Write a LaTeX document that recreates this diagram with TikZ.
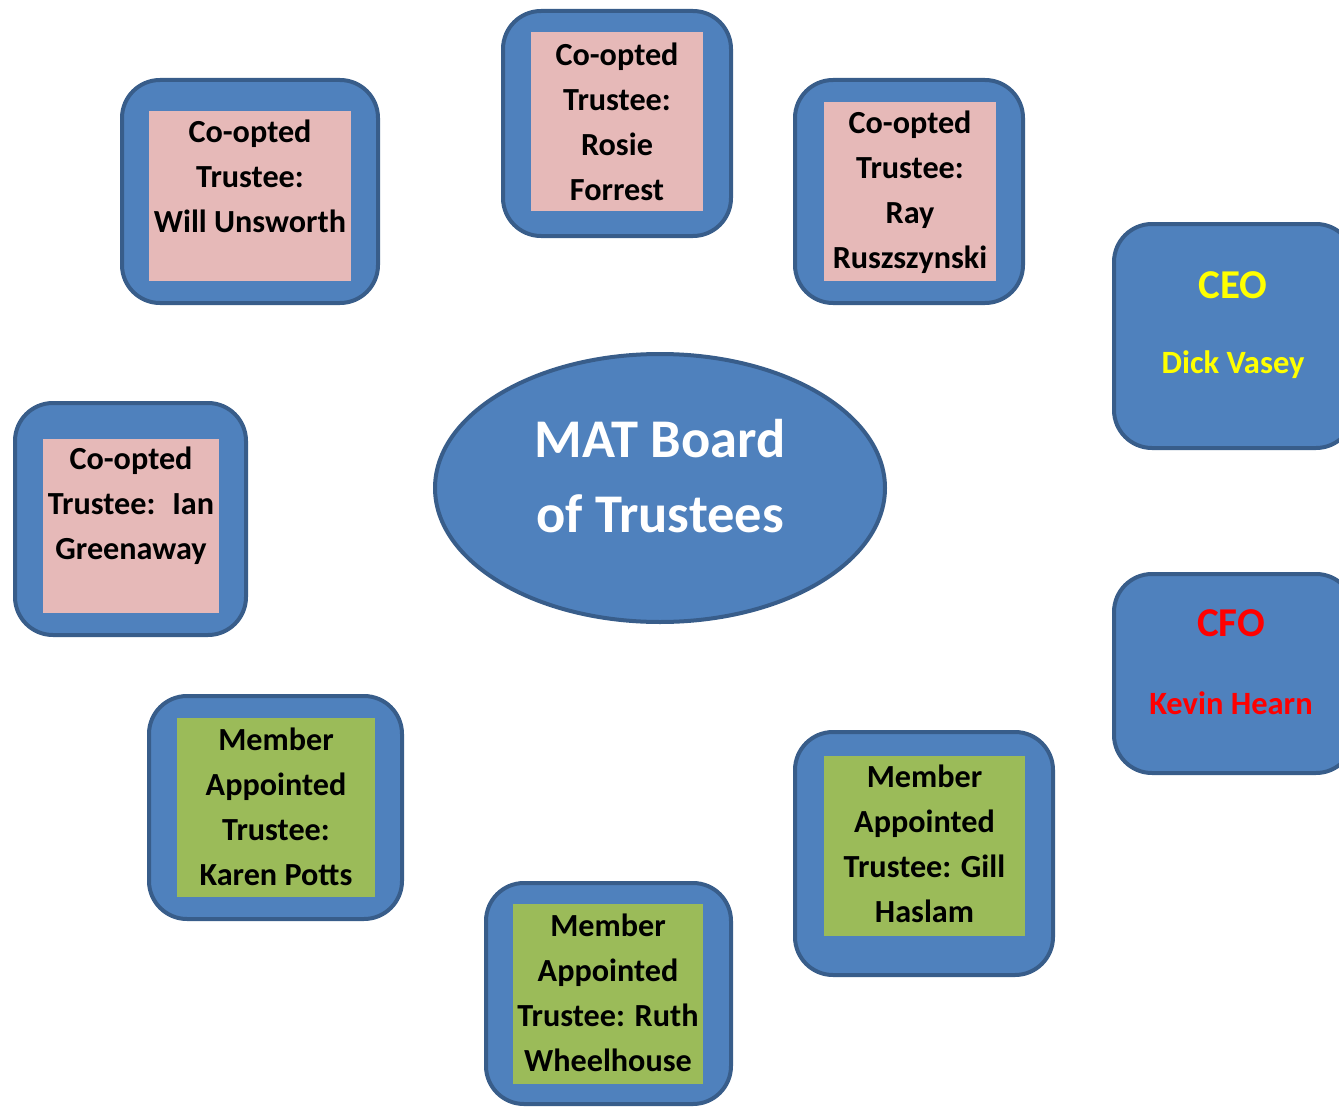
\documentclass[tikz,border=0pt]{standalone}
\usepackage{fontspec}
\setmainfont{Carlito}
\usetikzlibrary{shapes.geometric}
\definecolor{boxblue}{HTML}{4F81BD}
\definecolor{edgeblue}{HTML}{385D8A}
\definecolor{pinkfill}{HTML}{E6B9B8}
\definecolor{greenfill}{HTML}{9BBB59}
\definecolor{ceoyellow}{HTML}{FFFF00}
\definecolor{cfored}{HTML}{FF0000}
\begin{document}
\begin{tikzpicture}[x=1pt,y=-1pt,
  outerbox/.style={draw=edgeblue, line width=4pt, fill=boxblue, rounded corners=38pt, rectangle, inner sep=0pt},
  innertext/.style={rectangle, inner sep=0pt, align=center, text=black, font={\fontsize{32.2}{45}\selectfont\bfseries}},
  pinkbox/.style={innertext, fill=pinkfill},
  greenbox/.style={innertext, fill=greenfill},
  ovalbox/.style={ellipse, draw=edgeblue, line width=4pt, fill=boxblue, inner sep=0pt},
  titletext/.style={align=center, text=white, inner sep=0pt, font={\fontsize{54.5}{75}\selectfont\bfseries}},
  roletext/.style={inner sep=0pt, font={\fontsize{41}{48}\selectfont\bfseries}},
  nametext/.style={inner sep=0pt, font={\fontsize{32.5}{40}\selectfont\bfseries}}]
\useasboundingbox (0,0) rectangle (1339,1108);
\clip (0,0) rectangle (1339,1108);

% Will Unsworth
\node[outerbox, minimum width=256pt, minimum height=223pt] (o1) at (250,191.5) {};
\node[pinkbox, minimum width=202pt, minimum height=170pt] (i1) at (250,196) {};
\node[innertext] (t1) at (250,198.5) {Co-opted\\Trustee:\\Will Unsworth\\~};

% Rosie Forrest
\node[outerbox, minimum width=228pt, minimum height=225pt] (o2) at (617,123.5) {};
\node[pinkbox, minimum width=172pt, minimum height=179pt] (i2) at (617,121.5) {Co-opted\\Trustee:\\Rosie\\Forrest};

% Ray Ruszszynski
\node[outerbox, minimum width=228pt, minimum height=223pt] (o3) at (909,191.5) {};
\node[pinkbox, minimum width=172pt, minimum height=179pt] (i3) at (910,191.5) {};
\node[innertext] (t3) at (910,192.5) {Co-opted\\Trustee:\\Ray\\Ruszszynski};

% CEO
\node[outerbox, minimum width=240pt, minimum height=224pt] (o4) at (1234,336) {};
\node[roletext, text=ceoyellow] (ceo) at (1233,285) {CEO};
\node[nametext, text=ceoyellow] (ceoname) at (1233,365) {Dick Vasey};

% Ian Greenaway
\node[outerbox, minimum width=231pt, minimum height=232pt] (o5) at (130.5,519) {};
\node[pinkbox, minimum width=176pt, minimum height=174pt] (i5) at (131,526) {Co-opted\\Trustee:~ Ian\\Greenaway\\~};

% Centre ellipse
\node[ovalbox, minimum width=450pt, minimum height=268pt] (board) at (660,488) {};
\node[titletext] (boardtitle) at (660,476) {MAT Board\\of Trustees};

% CFO
\node[outerbox, minimum width=240pt, minimum height=199pt] (o6) at (1234,673.5) {};
\node[roletext, text=cfored] (cfo) at (1231,623) {CFO};
\node[nametext, text=cfored] (cfoname) at (1231,703) {Kevin Hearn};

% Karen Potts
\node[outerbox, minimum width=253pt, minimum height=223pt] (o7) at (275.5,807.5) {};
\node[greenbox, minimum width=198pt, minimum height=179pt] (i7) at (276,807.5) {};
\node[innertext] (t7) at (276,806.5) {Member\\Appointed\\Trustee:\\Karen Potts};

% Gill Haslam
\node[outerbox, minimum width=258pt, minimum height=243pt] (o8) at (924,853.5) {};
\node[greenbox, minimum width=201pt, minimum height=180pt] (i8) at (924.5,846) {};
\node[innertext] (t8) at (924.5,843.5) {Member\\Appointed\\Trustee: Gill\\Haslam};

% Ruth Wheelhouse
\node[outerbox, minimum width=245pt, minimum height=221pt] (o9) at (608.5,993.5) {};
\node[greenbox, minimum width=190pt, minimum height=180pt] (i9) at (608,994) {};
\node[innertext] (t9) at (608,992.5) {Member\\Appointed\\Trustee: Ruth\\Wheelhouse};
\end{tikzpicture}
\end{document}
